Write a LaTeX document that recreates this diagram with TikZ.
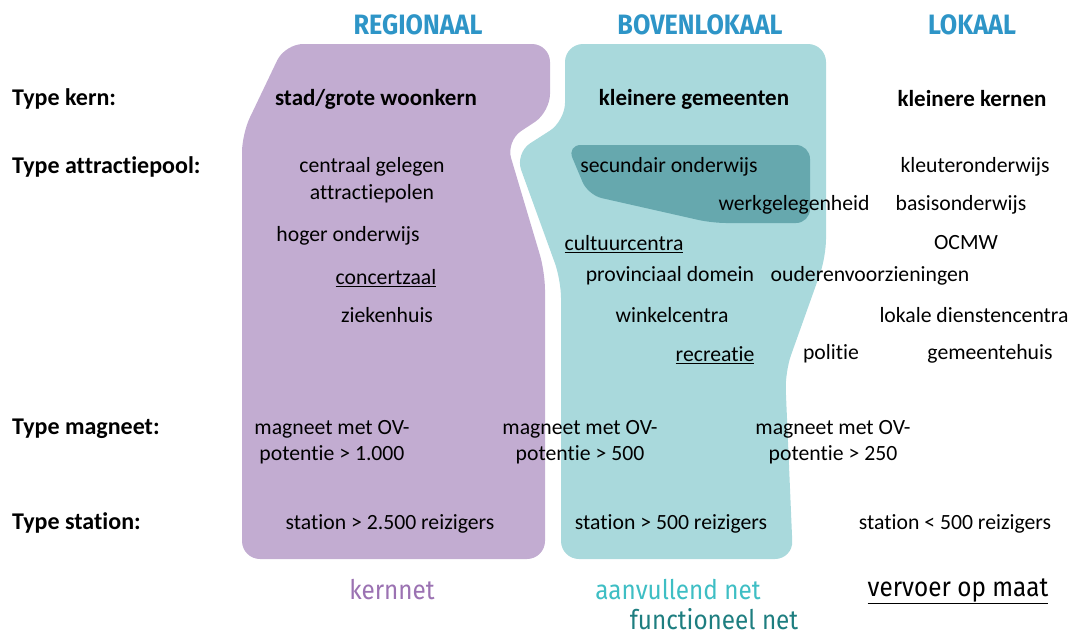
\documentclass[tikz,border=0pt]{standalone}
\usepackage{fontspec}
\setmainfont{Carlito}[Ligatures=NoCommon]
\newfontfamily\headfont[FakeStretch=0.9]{Fira Sans}

\definecolor{regio}{RGB}{194,172,209}
\definecolor{boven}{RGB}{169,217,220}
\definecolor{bovendonker}{RGB}{102,168,174}
\definecolor{kopblauw}{RGB}{46,149,199}
\definecolor{kernpaars}{RGB}{155,114,178}
\definecolor{aanvulblauw}{RGB}{62,190,196}
\definecolor{functiegroen}{RGB}{30,126,128}

\begin{document}
\begin{tikzpicture}[
  x=1pt, y=-1pt,
  txt/.style={font=\fontsize{21.7}{26.5}\selectfont, inner sep=0pt, align=center, yshift=-2pt},
  vet/.style={txt, font=\fontsize{23}{27}\selectfont\bfseries},
  lbl/.style={txt, font=\fontsize{24}{28}\selectfont\bfseries, anchor=west},
  kop/.style={font=\fontsize{28}{30}\headfont\bfseries, text=kopblauw, inner sep=0pt},
  net/.style={font=\fontsize{27}{30}\headfont, inner sep=0pt},
  ]
\useasboundingbox (0,0) rectangle (1070,635);

% vlakken
\fill[regio, rounded corners=18pt] (285,44) -- (550,44) -- (550,112) -- (506,141)
  -- (545,272) -- (545,559) -- (242,559) -- (242,134) -- cycle;
\fill[boven, rounded corners=18pt] (565,44) -- (826,44) -- (826,257) -- (785,372)
  -- (793,559) -- (561,559) -- (561,280) -- (515,153) -- (565,121) -- cycle;
\fill[bovendonker, rounded corners=14pt] (567,145) -- (810,145) -- (810,223)
  -- (712,223) -- (588,195) -- cycle;

% koppen
\node[kop] (kopRegio) at (418,25) {REGIONAAL};
\node[kop] (kopBoven) at (700,25) {BOVENLOKAAL};
\node[kop] (kopLokaal) at (972,25) {LOKAAL};

\node[lbl] (lblKern) at (12,97) {Type kern:};
\node[lbl] (lblPool) at (12,165) {Type attractiepool:};
\node[lbl] (lblMagneet) at (12,427) {Type magneet:};
\node[lbl] (lblStation) at (12,521) {Type station:};

% type kern
\node[vet] (kernRegio) at (376,97) {stad/grote woonkern};
\node[vet] (kernBoven) at (694,97) {kleinere gemeenten};
\node[vet] (kernLokaal) at (972,97) {kleinere kernen};

% attractiepolen
\node[txt] (poolCentraal) at (372,178) {centraal gelegen\\attractiepolen};
\node[txt] (poolHoger) at (348,234) {hoger onderwijs};
\node[txt] (poolConcert) at (386,276) {\underline{concertzaal}};
\node[txt] (poolZiekenhuis) at (387,313) {ziekenhuis};
\node[txt] (poolSecundair) at (669,165) {secundair onderwijs};
\node[txt] (poolWerk) at (794,203) {werkgelegenheid};
\node[txt] (poolCultuur) at (624,242) {\underline{cultuurcentra}};
\node[txt] (poolDomein) at (670,274) {provinciaal domein};
\node[txt] (poolWinkel) at (672,313) {winkelcentra};
\node[txt] (poolRecreatie) at (715,353) {\underline{recreatie}};
\node[txt] (poolPolitie) at (831,352) {politie};
\node[txt] (poolGemeente) at (990,352) {gemeentehuis};
\node[txt] (poolKleuter) at (975,165) {kleuteronderwijs};
\node[txt] (poolBasis) at (961,203) {basisonderwijs};
\node[txt] (poolOCMW) at (966,241) {OCMW};
\node[txt] (poolOuderen) at (870,274) {ouderenvoorzieningen};
\node[txt] (poolLDC) at (974,313) {lokale dienstencentra};

% magneten en stations
\node[txt] (magRegio) at (332,440) {magneet met OV-\\potentie > 1.000};
\node[txt] (magBoven) at (580,440) {magneet met OV-\\potentie > 500};
\node[txt] (magLokaal) at (833,440) {magneet met OV-\\potentie > 250};
\node[txt] (stRegio) at (390,522) {station > 2.500 reizigers};
\node[txt] (stBoven) at (671,522) {station > 500 reizigers};
\node[txt] (stLokaal) at (955,522) {station < 500 reizigers};

% netten
\node[net, text=kernpaars] (netKern) at (392,590) {kernnet};
\node[net, text=aanvulblauw] (netAanvul) at (678,590) {aanvullend net};
\node[net] (netMaat) at (958,591) {\underline{vervoer op maat}};
\node[net, text=functiegroen] (netFunctie) at (714,619) {functioneel net};
\end{tikzpicture}
\end{document}
